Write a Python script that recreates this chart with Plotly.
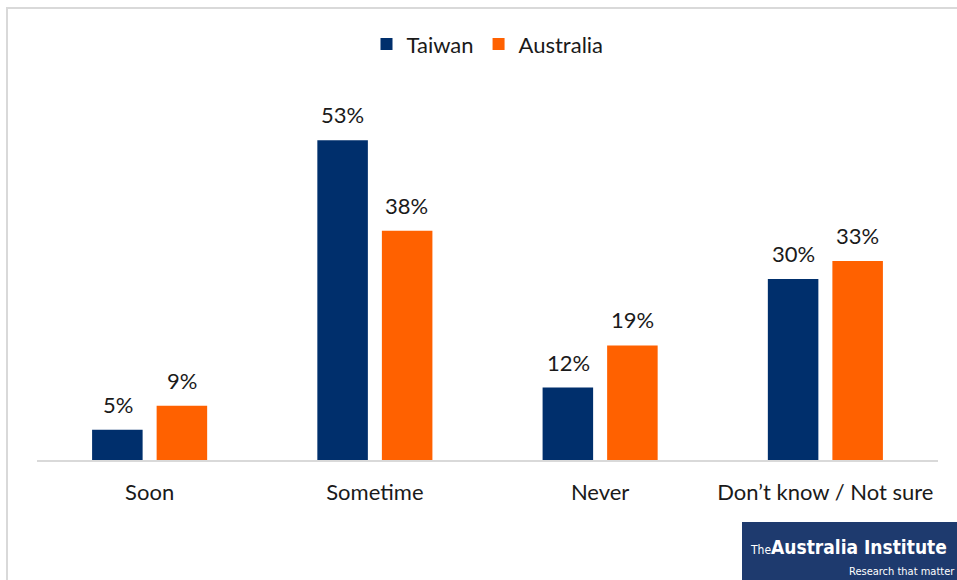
import plotly.graph_objects as go

categories = ["Soon", "Sometime", "Never", "Don’t know / Not sure"]
taiwan = [5, 53, 12, 30]
australia = [9, 38, 19, 33]
series_names = ["Taiwan", "Australia"]
colors = ["#002F6C", "#FF6100"]

FONT = "Lato, 'Open Sans', sans-serif"
NARROW = "'Liberation Sans Narrow', 'DejaVu Sans Condensed', sans-serif"

fig = go.Figure()
for name, vals, col in zip(series_names, [taiwan, australia], colors):
    fig.add_trace(go.Bar(name=name, x=categories, y=vals, marker_color=col,
                         marker_line_width=0, hoverinfo="skip"))

# data labels
for vals, shift in [(taiwan, -32), (australia, 32)]:
    for c, v in zip(categories, vals):
        fig.add_annotation(x=c, y=v, text=f"{v}%", showarrow=False,
                           xref="x", yref="y", yanchor="bottom", xshift=shift, yshift=10,
                           font=dict(size=22, color="#1a1a1a", family=FONT))

fig.update_layout(
    width=957, height=580,
    margin=dict(l=37, r=19, t=80, b=120),
    plot_bgcolor="white", paper_bgcolor="white",
    barmode="group", bargap=0.427, bargroupgap=0.217,
    font=dict(family=FONT, size=22, color="#1a1a1a"),
    legend=dict(orientation="h", x=0.5, xanchor="center", y=0.96, yref="container",
                yanchor="top", font=dict(size=22), traceorder="normal"),
    showlegend=True,
)
fig.update_xaxes(showline=True, linecolor="#D9D9D9", linewidth=2, ticks="", showgrid=False,
                 ticklabelstandoff=12, tickfont=dict(size=22, family=FONT, color="#1a1a1a"))
fig.update_yaxes(visible=False, range=[0, 63.0], showgrid=False)

# outer border (chart frame)
fig.add_shape(type="rect", xref="paper", yref="paper",
              x0=-30/901, x1=1.2, y0=-0.5, y1=(460 - 8) / 380,
              line=dict(color="#D9D9D9", width=2), fillcolor="rgba(0,0,0,0)", layer="below")

# logo box
fig.add_shape(type="rect", xref="paper", yref="paper",
              x0=(742 - 37) / 901, x1=1.05, y0=-(580 - 460) / 380 - 0.05, y1=-(522 - 460) / 380,
              line=dict(width=0), fillcolor="#1E3A6E")
fig.add_annotation(xref="paper", yref="paper", x=(949 - 37) / 901, y=-(547 - 460) / 380,
                   xanchor="right", yanchor="middle", showarrow=False,
                   text="<span style='font-size:12px'>The</span><b>Australia Institute</b>",
                   font=dict(size=19, color="white", family=NARROW))
fig.add_annotation(xref="paper", yref="paper", x=(957 - 37) / 901, y=-(571 - 460) / 380,
                   xanchor="right", yanchor="middle", showarrow=False,
                   text="Research that matter",
                   font=dict(size=11, color="white", family=NARROW))

fig.write_html("out.html", config={"displayModeBar": False},
               post_script="document.body.style.margin='0';")
